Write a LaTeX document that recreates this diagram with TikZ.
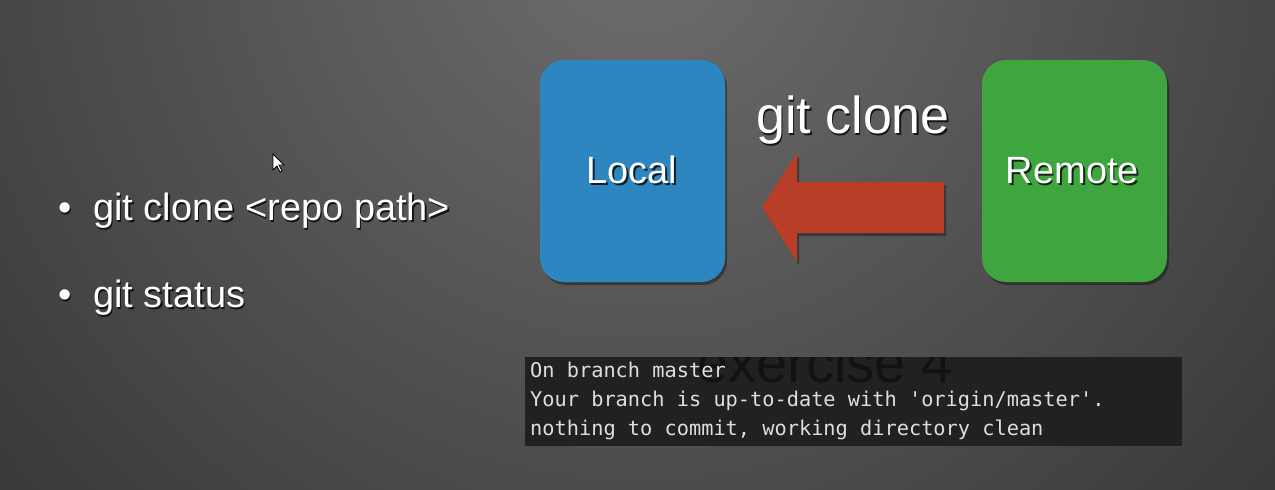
\documentclass[tikz,border=0pt]{standalone}
\usepackage{fontspec}
\setmainfont{Liberation Sans}
\newfontfamily\monofont{DejaVu Sans Mono}
\definecolor{bginner}{HTML}{6E6E6E}
\definecolor{bgouter}{HTML}{202020}
\definecolor{localblue}{HTML}{2E86C0}
\definecolor{remotegreen}{HTML}{3EA53F}
\definecolor{arrowred}{HTML}{B83E27}
\definecolor{termbg}{HTML}{212121}
\definecolor{termtext}{HTML}{DEDEDE}
\definecolor{ghosttext}{HTML}{121212}
\tikzset{
  repobox/.style={rectangle, rounded corners=24pt, minimum width=185pt, minimum height=222pt, inner sep=0pt},
  boxshadow/.style={repobox, fill=black, opacity=.35},
  bigtxt/.style={text=white, font=\fontsize{38}{42}\selectfont, inner sep=0pt, anchor=base},
  bigshadow/.style={bigtxt, text=black, text opacity=.75},
  titletxt/.style={text=white, font=\fontsize{52}{56}\selectfont, inner sep=0pt, anchor=base},
  titleshadow/.style={titletxt, text=black, text opacity=.75},
  bullettxt/.style={text=white, font=\fontsize{38}{42}\selectfont, inner sep=0pt, anchor=base west},
  bulletshadow/.style={bullettxt, text=black, text opacity=.75},
  termline/.style={text=termtext, font=\monofont\fontsize{20.3}{22}\selectfont, inner sep=0pt, anchor=base west},
}
\begin{document}
\begin{tikzpicture}[x=1pt,y=-1pt]
\useasboundingbox (0,0) rectangle (1275,490);
% background
\begin{scope}
\clip (0,0) rectangle (1275,490);
\shade[inner color=bginner, outer color=bgouter] (640,-70) circle (1250);
\end{scope}
% boxes
\node[boxshadow] (localsh) at (634.5,174) {};
\node[boxshadow] (remotesh) at (1076.5,174) {};
\node[repobox, fill=localblue] (local) at (632.5,171) {};
\node[repobox, fill=remotegreen] (remote) at (1074.5,171) {};
% box labels
\node[bigshadow] (localtsh) at (633.5,185) {Local};
\node[bigtxt] (localt) at (632,183) {Local};
\node[bigshadow] (remotetsh) at (1074,185) {Remote};
\node[bigtxt] (remotet) at (1072.5,183) {Remote};
% arrow from remote to local
\fill[black, opacity=.35] (946,185) -- (799,185) -- (799,156) -- (764,210) -- (799,265) -- (799,236) -- (946,236) -- cycle;
\fill[arrowred] (944,182) -- (797,182) -- (797,153) -- (762,207) -- (797,262) -- (797,233) -- (944,233) -- cycle;
% arrow label
\node[titleshadow] (clonesh) at (854.5,135) {git clone};
\node[titletxt] (clonet) at (853,133) {git clone};
% bullets
\node[bulletshadow] (b1sh) at (59.5,222) {•};
\node[bullettxt] (b1dot) at (58,220) {•};
\node[bulletshadow] (b1tsh) at (94.5,222) {git clone <repo path>};
\node[bullettxt] (b1t) at (93,220) {git clone <repo path>};
\node[bulletshadow] (b2sh) at (59.5,309) {•};
\node[bullettxt] (b2dot) at (58,307) {•};
\node[bulletshadow] (b2tsh) at (94.5,309) {git status};
\node[bullettxt] (b2t) at (93,307) {git status};
% terminal
\node[rectangle, fill=termbg, minimum width=657pt, minimum height=89pt, inner sep=0pt, anchor=north west] (term) at (525,357) {};
\begin{scope}
\path[clip] (term.north west) rectangle (term.south east);
\path (697,382) node[text=ghosttext, font=\fontsize{56}{60}\selectfont, inner sep=0pt, anchor=base west] (ghost) {exercise 4};
\end{scope}
\node[termline] (t1) at (530,377) {On branch master};
\node[termline] (t2) at (530,406) {Your branch is up-to-date with 'origin/master'.};
\node[termline] (t3) at (530,435) {nothing to commit, working directory clean};
% mouse pointer
\filldraw[fill=white, draw=black, line width=0.8pt, line join=miter] (273,154) -- (273,170) -- (277,166) -- (280,172) -- (282,171) -- (279,165) -- (284,165) -- cycle;
\end{tikzpicture}
\end{document}
